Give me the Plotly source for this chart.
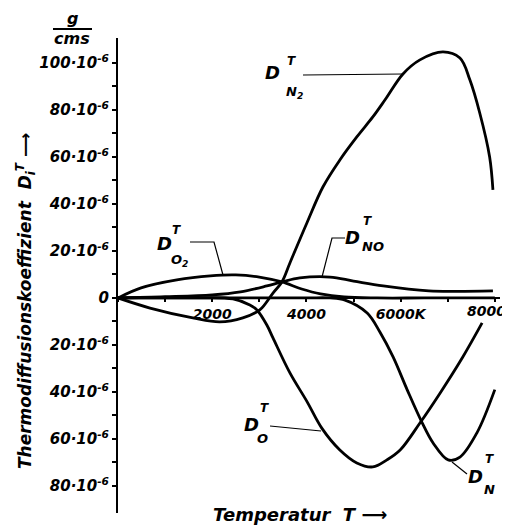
import plotly.graph_objects as go

# ---------------- data (T in K, D in 1e-6 g/(cm s)) ----------------
t_n2 = [0, 680, 1590, 2160, 2650, 3010, 3290, 3480, 3650, 4010, 4350, 4710, 5070,
        5410, 5670, 6050, 6410, 6900, 7260, 7470, 7680, 7890, 7960]
d_n2 = [0, -4.3, -8.5, -10.2, -8.5, -5.1, 2.1, 6.8, 14.9, 31.9, 47.2, 58.7, 68.5,
        77.0, 84.3, 95.3, 101.3, 104.7, 102.1, 92.8, 78.7, 60.0, 46.0]

t_o2 = [0, 490, 1250, 1960, 2500, 3000, 3480, 3900, 4300, 4800, 5500, 6500, 8000]
d_o2 = [0, 4.3, 7.7, 9.4, 9.8, 8.9, 6.8, 3.8, 1.7, 0.4, 0, 0, 0]

t_no = [0, 1000, 2000, 2600, 3160, 3480, 3860, 4500, 5000, 5630, 6600, 7200, 7960]
d_no = [0, 0.5, 1.3, 2.6, 5.1, 6.8, 8.5, 8.9, 7.2, 5.1, 3.0, 2.8, 3.0]

t_n = [0, 2000, 4000, 4500, 4820, 5290, 5560, 5840, 6140, 6450, 6690, 7010, 7260, 7620, 8000]
d_n = [0, 0, 0, 0, -0.9, -6.4, -14.5, -25.1, -39.1, -52.8, -61.7, -68.9, -67.7, -57.4, -39.0]

t_o = [0, 1500, 2440, 2800, 2950, 3160, 3290, 3650, 4010, 4330, 4710, 5070, 5410,
       5710, 5990, 6410, 6840, 7320, 7730]
d_o = [0, 0, -0.4, -3.0, -5.1, -11.5, -17.0, -31.9, -44.0, -55.5, -64.7, -70.2, -71.9,
       -68.9, -64.7, -53.2, -40.4, -25.1, -10.6]

x_ticks = [0, 1000, 2000, 3000, 4000, 5000, 6000, 7000, 8000]
x_labels = ["", "", "2000", "", "4000", "", "6000K", "", ""]
last_x_label = "8000"
y_ticks = list(range(-80, 101, 10))
y_labels = []
for v in y_ticks:
    if v == 0:
        y_labels.append("0")
    elif v % 20 == 0:
        y_labels.append(f"{abs(v)}·10<sup>-6</sup>")
    else:
        y_labels.append("")

X_RANGE = [0, 8110]
Y_RANGE = [-91.5, 110.6]

FONT = "DejaVu Sans, Liberation Sans, sans-serif"
# the page body adds an 8 px margin, so the figure is 8 px smaller than the window
W, H = 502, 523
ML, MR, MT, MB = 110, 10, 30, 18
PW, PH = W - ML - MR, H - MT - MB


def paper(xpx, ypx):
    # pixel coordinates of the 510x531 window -> paper coordinates
    return (xpx - 8 - ML) / PW, (H - MB - (ypx - 8)) / PH


fig = go.Figure()
for t, d in [(t_n2, d_n2), (t_o2, d_o2), (t_no, d_no), (t_n, d_n), (t_o, d_o)]:
    fig.add_trace(go.Scatter(x=t, y=d, mode="lines",
                             line=dict(color="black", width=2.8, shape="spline", smoothing=1.0),
                             hoverinfo="skip", showlegend=False))

annotations = []
shapes = []


def txt(xpx, ypx, text, size, **kw):
    xp, yp = paper(xpx, ypx)
    annotations.append(dict(x=xp, y=yp, xref="paper", yref="paper", text=text,
                            showarrow=False, xanchor="center", yanchor="middle",
                            font=dict(family=FONT, size=size, color="black",
                                      style="italic", weight="bold"), **kw))


def line(points, width=1.2):
    path = ""
    for i, (a, b) in enumerate(points):
        xp, yp = paper(a, b)
        path += ("M" if i == 0 else "L") + f"{xp},{yp} "
    shapes.append(dict(type="path", path=path, xref="paper", yref="paper",
                       line=dict(color="black", width=width)))


def dlabel(d, t, s):
    txt(d[0], d[1], "D", 18)
    txt(t[0], t[1], "T", 12)
    txt(s[0], s[1], s[2], 13)


dlabel((272, 72), (291, 61), (294, 92, "N<sub>2</sub>"))
line([(303, 75), (403, 74)])
dlabel((164, 243), (176, 230), (179, 261, "O<sub>2</sub>"))
line([(190, 242), (214, 242), (223, 275)])
dlabel((352, 237), (367, 221), (373, 247, "NO"))
line([(345, 238), (332, 238), (322, 277)])
dlabel((251, 424), (264, 408), (262, 438, "O"))
line([(270, 426), (321, 431)])
dlabel((475, 476), (489, 459), (489, 489, "N"))
line([(452, 462), (467, 474)])

# unit g / cms
txt(72, 19, "g", 16)
txt(72, 38, "cms", 16)
line([(53, 29), (92, 29)], width=2)

# axis titles
txt(25, 301, "Thermodiffusionskoeffizient  D<sub>i</sub><sup>T</sup> ⟶", 17, textangle=-90)
txt(300, 514, "Temperatur  T ⟶", 18)

# last x tick label (kept inside the picture)
annotations.append(dict(x=8000, y=0, xref="x", yref="y", text=last_x_label, showarrow=False,
                        xanchor="center", yanchor="top", xshift=-8, yshift=-3,
                        font=dict(family=FONT, size=14, color="black", style="italic",
                                  weight="bold")))

xpos = (0 - Y_RANGE[0]) / (Y_RANGE[1] - Y_RANGE[0])

fig.update_layout(
    width=W, height=H,
    margin=dict(l=ML, r=MR, t=MT, b=MB, autoexpand=False),
    paper_bgcolor="white", plot_bgcolor="white",
    annotations=annotations, shapes=shapes,
    xaxis=dict(range=X_RANGE, anchor="free", position=xpos, showline=True,
               linecolor="black", linewidth=2.2, showgrid=False, zeroline=False,
               tickvals=x_ticks, ticktext=x_labels, ticks="outside", ticklen=3,
               tickwidth=2, tickcolor="black", ticklabelstandoff=0,
               tickfont=dict(family=FONT, size=14, color="black", style="italic", weight="bold")),
    yaxis=dict(range=Y_RANGE, showline=True, linecolor="black", linewidth=2.2,
               showgrid=False, zeroline=False, tickvals=y_ticks, ticktext=y_labels,
               ticks="outside", ticklen=4, tickwidth=2, tickcolor="black",
               tickfont=dict(family=FONT, size=15, color="black", style="italic", weight="bold")),
)

fig.write_html("out.html")
